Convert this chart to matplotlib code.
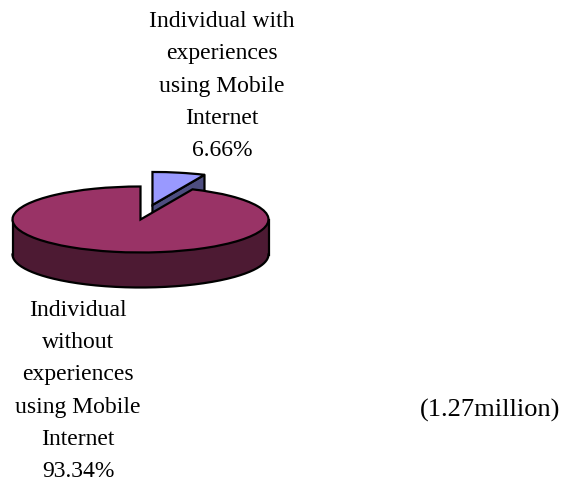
import numpy as np
import matplotlib
matplotlib.use('Agg')
import matplotlib.pyplot as plt

plt.rcParams['font.family'] = ['Liberation Serif', 'DejaVu Serif']

shares = [6.66, 93.34]
top_colors = ['#9999ff', '#993366']
wall_colors = ['#4d4d80', '#4d1a33']
label_with = ['Individual with', 'experiences', 'using Mobile', 'Internet', '6.66%']
label_without = ['Individual', 'without', 'experiences', 'using Mobile', 'Internet', '93.34%']
unit_note = '(1.27million)'

# pie geometry in pixels of the 565x481 picture
W, H = 565, 481
cx, cy, rx, ry, depth = 140.5, 220.5, 128, 33, 35
explode = 0.45

fig = plt.figure(figsize=(W / 100, H / 100), dpi=100)
fig.patch.set_facecolor('white')
ax = fig.add_axes([0, 0, 1, 1])

d = depth / ry
lw = 1.6
sweep = shares[0] / 100 * 2 * np.pi
mid = np.pi / 2 - sweep / 2
ox, oy = explode * np.cos(mid), explode * np.sin(mid)
edge = np.pi / 2 - sweep

# wall of the pulled out slice, the big slice covers most of it
x0, y0 = ox, oy
x1, y1 = ox + np.cos(edge), oy + np.sin(edge)
ax.fill([x0, x1, x1, x0], [y0, y1, y1 - d, y0 - d], facecolor=wall_colors[0],
        edgecolor='black', lw=lw, joinstyle='round', zorder=1)
ax.pie([shares[0], 100 - shares[0]], startangle=90, counterclock=False, center=(ox, oy),
       colors=[top_colors[0], 'none'], frame=True, normalize=True)
ax.patches[-2].set(edgecolor='black', lw=lw, zorder=2)
ax.patches[-1].set_visible(False)

# wall of the big slice
t = np.linspace(np.pi, 2 * np.pi, 200)
ax.fill_between(np.cos(t), np.sin(t), np.sin(t) - d, facecolor=wall_colors[1], edgecolor='none', zorder=3)
ax.plot(np.cos(t), np.sin(t) - d, color='black', lw=lw, zorder=4)
ax.plot([-1, -1], [0, -d], color='black', lw=lw, zorder=4)
ax.plot([1, 1], [0, -d], color='black', lw=lw, zorder=4)

# top of the big slice
ax.pie([shares[0], shares[1]], startangle=90, counterclock=False,
       colors=['none', top_colors[1]], frame=True, normalize=True)
ax.patches[-2].set_visible(False)
ax.patches[-1].set(edgecolor='black', lw=lw, zorder=5)

# one data unit = pie radius, so the circle gets squashed to an ellipse
ax.set_aspect('auto')
ax.set_xlim(-cx / rx, (W - cx) / rx)
ax.set_ylim(-(H - cy) / ry, cy / ry)
ax.axis('off')

def put_lines(lines, x_px, first_y, step):
    for i, s in enumerate(lines):
        fig.text(x_px / W, 1 - (first_y + i * step) / H, s, ha='center', va='baseline',
                 fontsize=17, color='black')

put_lines(label_with, 222, 27, 32.3)
put_lines(label_without, 78, 316, 32.2)
fig.text(490 / W, 1 - 417 / H, unit_note, ha='center', va='baseline', fontsize=19, color='black')

plt.savefig('out.png', dpi=100)
